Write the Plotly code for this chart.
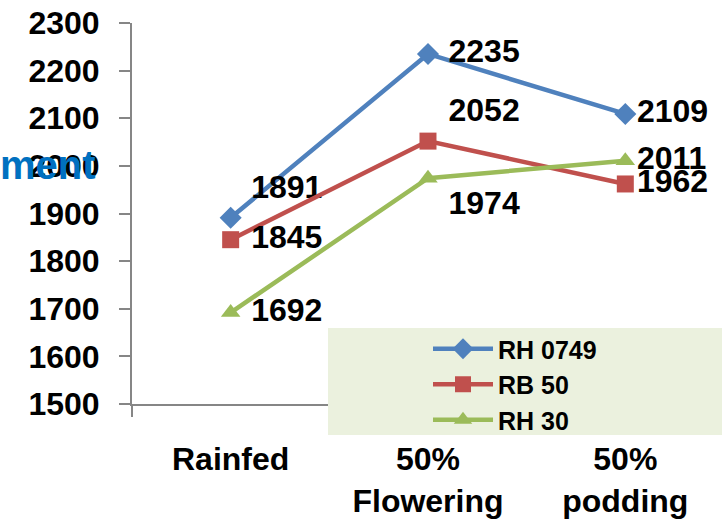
import plotly.graph_objects as go

categories = ["Rainfed", "50%<br>Flowering", "50%<br>podding"]
series_names = ["RH 0749", "RB 50", "RH 30"]
rh0749 = [1891, 2235, 2109]
rb50 = [1845, 2052, 1962]
rh30 = [1692, 1974, 2011]
y_ticks = [1500, 1600, 1700, 1800, 1900, 2000, 2100, 2200, 2300]

colors = ["#4F81BD", "#C0504D", "#9BBB59"]
symbols = ["diamond", "square", "triangle-up"]
label_pos = [
    ["top right", "middle right", "middle right"],
    ["middle right", "top right", "middle right"],
    ["middle right", "bottom right", "middle right"],
]
label_tpl = ["\u00a0%{y}", "\u00a0%{y}", "%{y}"]
FONT = "Arial, Liberation Sans, sans-serif"

fig = go.Figure()
for name, vals, c, s, pos in zip(series_names, [rh0749, rb50, rh30], colors, symbols, label_pos):
    fig.add_trace(go.Scatter(
        x=categories, y=vals, name=name, mode="lines+markers+text",
        line=dict(color=c, width=4.5),
        marker=dict(symbol=s, size=17, color=c),
        texttemplate=label_tpl, textposition=pos,
        textfont=dict(family=FONT, size=32, color="black", weight="bold"),
        cliponaxis=False,
    ))

W, H = 722, 522
L, R, T, B = 132, 0, 23, 118
pw = W - L - R
ph = H - T - B

fig.update_layout(
    width=W, height=H,
    margin=dict(l=L, r=R, t=T, b=B, autoexpand=False),
    plot_bgcolor="white", paper_bgcolor="white",
    font=dict(family=FONT, color="black"),
    showlegend=True,
    legend=dict(
        x=(428 - L) / pw, xanchor="left",
        y=(404 - 326) / ph, yanchor="top",
        bgcolor="rgba(0,0,0,0)",
        font=dict(family=FONT, size=25, color="black", weight="bold"),
        itemwidth=60, tracegroupgap=0,
    ),
    shapes=[dict(
        type="rect", xref="paper", yref="paper", layer="above",
        x0=(328 - L) / pw, x1=1.0, y0=(404 - 435) / ph, y1=(404 - 328) / ph,
        fillcolor="#EBF1DE", line=dict(width=0),
    )],
    annotations=[dict(
        text="<b>ment</b>", xref="paper", yref="paper",
        x=-L / pw, xanchor="left", xshift=-2, y=(404 - 165) / ph, yanchor="middle",
        showarrow=False, font=dict(family=FONT, size=40, color="#0070C0"),
    )],
)
fig.update_xaxes(
    type="category", range=[-0.5, 2.49], automargin=False,
    showline=True, linecolor="#868686", linewidth=2,
    showgrid=False, ticks="outside", tickson="boundaries", ticklen=11,
    tickcolor="#868686", tickwidth=2, ticklabelstandoff=26,
    tickfont=dict(family=FONT, size=32, color="black", weight="bold"),
)
fig.update_yaxes(
    range=[1500, 2300], tickvals=y_ticks, automargin=False,
    showline=True, linecolor="#868686", linewidth=2,
    showgrid=False, zeroline=False, ticks="outside", ticklen=11,
    tickcolor="#868686", tickwidth=2, ticklabelstandoff=13,
    tickfont=dict(family=FONT, size=32, color="black", weight="bold"),
)
fig.write_html(
    "out.html",
    config={"displayModeBar": False},
    post_script="document.body.style.margin='0';document.body.style.overflow='hidden';",
)
